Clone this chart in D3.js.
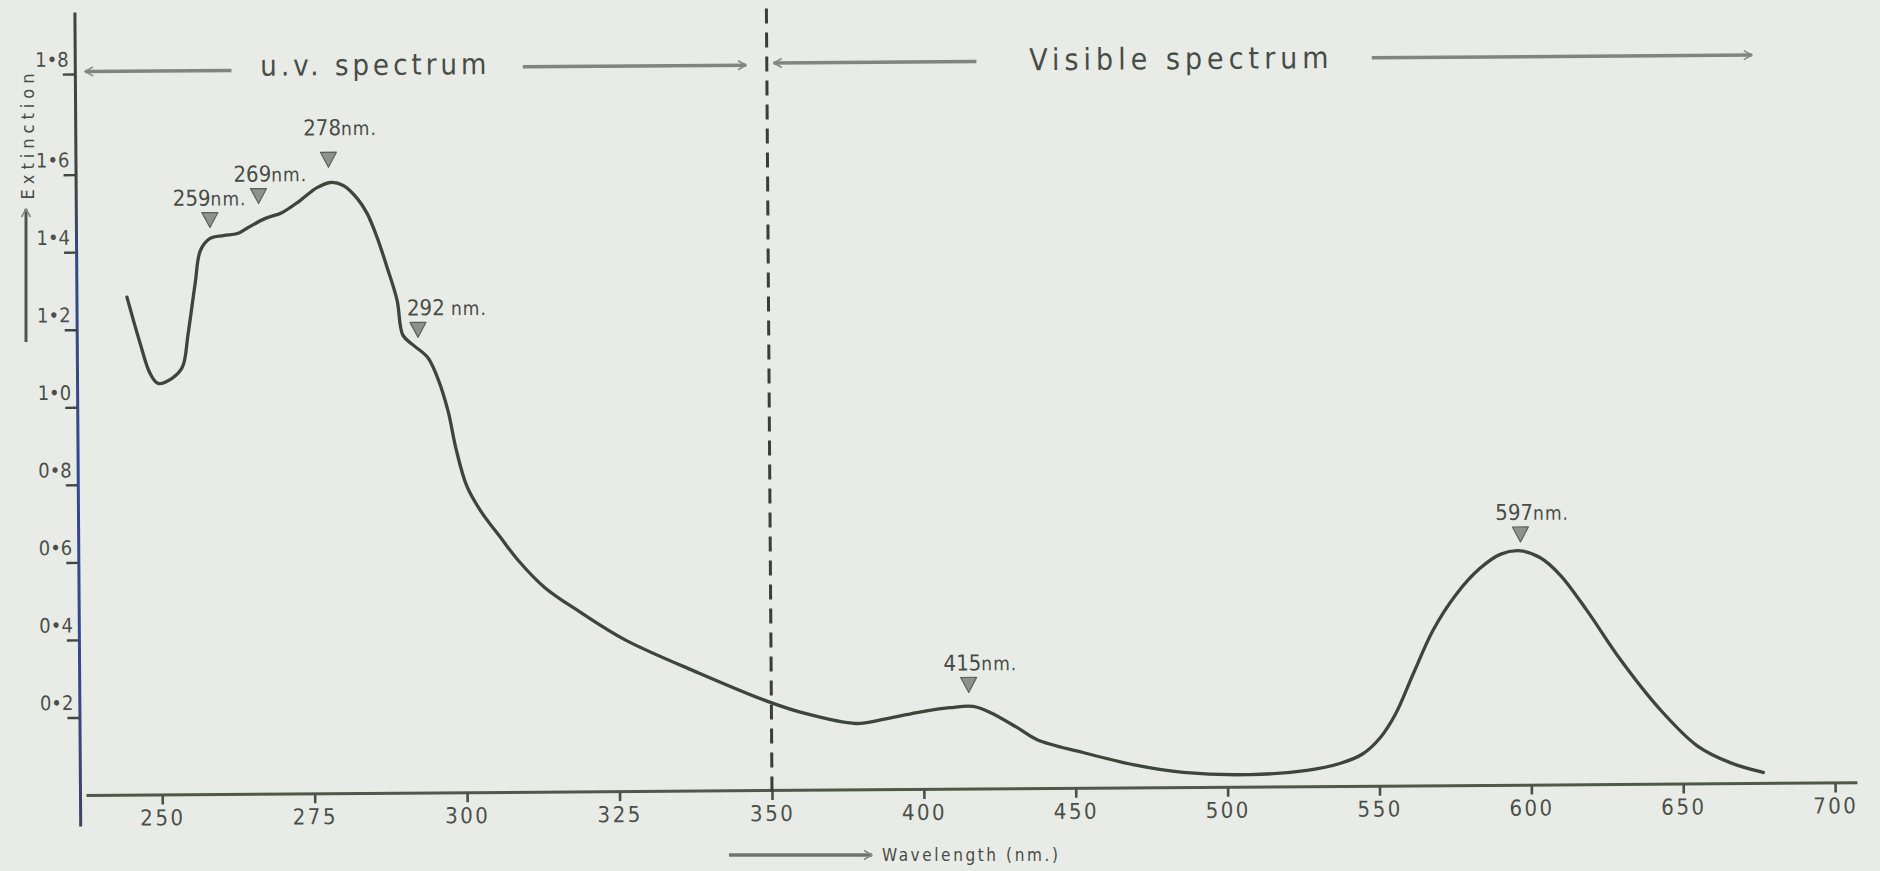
<!DOCTYPE html>
<html>
<head>
<meta charset="utf-8">
<script src="https://cdn.jsdelivr.net/npm/d3@7"></script>
<style>
body { margin: 0; background: #e9ebe7; overflow: hidden; }
svg { display: block; }
text { font-family: "Liberation Sans Narrow", "DejaVu Sans Condensed", "Liberation Sans", sans-serif; fill: #474d46; }
</style>
</head>
<body>
<script>
const width = 1880
const height = 871

// absorption curve
const wavelength = [244.8, 246.9, 248.5, 249.8, 252.1, 253.8, 254.8, 256.0, 256.9, 258.5, 260.7, 263.0, 264.5, 267.5, 270.3, 273.3, 276.1, 278.3, 280.4, 282.7, 284.3, 285.9, 287.5, 289.1, 290.0, 291.7, 294.0, 295.6, 297.3, 298.6, 300.3, 302.6, 305.7, 308.6, 313.0, 318.7, 326.1, 338.3, 349.5, 360.1, 377.8, 386.7, 397.9, 408.8, 416.4, 422.0, 430.8, 437.4, 452.5, 468.9, 485.4, 507.4, 526.2, 537.0, 544.5, 550.5, 555.5, 561.5, 568.0, 575.5, 583.5, 590.5, 597.0, 603.5, 610.0, 618.8, 629.6, 642.6, 654.7, 665.5, 676.4]
const extinction = [1.283, 1.164, 1.086, 1.060, 1.073, 1.101, 1.189, 1.317, 1.402, 1.433, 1.440, 1.445, 1.458, 1.483, 1.498, 1.529, 1.562, 1.575, 1.567, 1.533, 1.494, 1.432, 1.355, 1.270, 1.180, 1.154, 1.123, 1.071, 0.985, 0.885, 0.790, 0.724, 0.658, 0.598, 0.526, 0.463, 0.390, 0.302, 0.228, 0.199, 0.170, 0.180, 0.197, 0.209, 0.212, 0.196, 0.157, 0.125, 0.091, 0.059, 0.038, 0.031, 0.041, 0.058, 0.082, 0.125, 0.185, 0.290, 0.400, 0.490, 0.558, 0.595, 0.603, 0.585, 0.540, 0.447, 0.321, 0.191, 0.097, 0.053, 0.027]

const xTicks = [250, 275, 300, 325, 350, 400, 450, 500, 550, 600, 650, 700]
const yTicks = [0.2, 0.4, 0.6, 0.8, 1.0, 1.2, 1.4, 1.6, 1.8]
const yTickLabels = ['0•2', '0•4', '0•6', '0•8', '1•0', '1•2', '1•4', '1•6', '1•8']

// peak markers: labelled wavelength, where the triangle is drawn, height of its tip
const peakNm = [259, 269, 278, 292, 415, 597]
const peakLabels = ['259', '269', '278', '292 ', '415', '597']
const peakAt = [258.5, 266.5, 278, 292.5, 415, 597]
const peakTip = [1.461, 1.522, 1.611, 1.174, 0.248, 0.626]

const data = wavelength.map((w, i) => ({ w: w, e: extinction[i] }))
const peaks = peakNm.map((p, i) => ({ nm: p, label: peakLabels[i], at: peakAt[i], tip: peakTip[i] }))

// uv part is drawn at 25 nm per division, visible part at 50 nm per division
const x = d3.scaleLinear()
        .domain([237.5, 350, 707.2])
        .range([86, 772, 1857])

// the hand-ruled 1.8 mark sits a bit higher than the others
const y = d3.scaleLinear()
        .domain([-0.08, 1.6, 1.8, 1.923])
        .range([826, 174.6, 74, 12])

const svg = d3.select('body')
        .append('svg')
        .attr('width', width)
        .attr('height', height)

const defs = svg.append('defs')

const grad = defs.append('linearGradient')
        .attr('id', 'yaxis-col')
        .attr('gradientUnits', 'userSpaceOnUse')
        .attr('x1', 0).attr('x2', 0)
        .attr('y1', 12).attr('y2', 826)
grad.append('stop').attr('offset', 0).attr('stop-color', '#3e4440')
grad.append('stop').attr('offset', 0.2).attr('stop-color', '#3e4440')
grad.append('stop').attr('offset', 0.32).attr('stop-color', '#34488e')
grad.append('stop').attr('offset', 0.8).attr('stop-color', '#34488e')
grad.append('stop').attr('offset', 1).attr('stop-color', '#3c4560')

defs.append('marker')
        .attr('id', 'chev')
        .attr('viewBox', '0 0 12 12')
        .attr('refX', 11)
        .attr('refY', 6)
        .attr('markerWidth', 12)
        .attr('markerHeight', 12)
        .attr('markerUnits', 'userSpaceOnUse')
        .attr('orient', 'auto-start-reverse')
        .append('path')
        .attr('d', 'M3,1.5 L11,6 L3,10.5')
        .attr('fill', 'none')
        .attr('stroke', '#858a83')
        .attr('stroke-width', 1.6)

// the scan sits a little crooked on the page
const plot = svg.append('g')
        .attr('transform', 'rotate(-0.41, 80, 795)')

// x axis
const xAxis = d3.axisBottom(x)
        .tickValues(xTicks)
        .tickSize(10)
        .tickSizeOuter(0)
        .tickFormat(d3.format('d'))

const gx = plot.append('g')
        .attr('transform', 'translate(0,' + y(0) + ')')
        .call(xAxis)
gx.select('.domain').attr('stroke', '#4d5a48').attr('stroke-width', 3)
gx.selectAll('.tick line').attr('stroke', '#4a5247').attr('stroke-width', 2.6)
gx.selectAll('.tick text')
        .attr('y', 31)
        .attr('dy', 0)
        .attr('font-size', 22)
        .attr('letter-spacing', 2.5)
        .style('fill', '#4a5049')

// y axis
const yAxis = d3.axisLeft(y)
        .tickValues(yTicks)
        .tickSize(12)
        .tickSizeOuter(0)
        .tickFormat((d, i) => yTickLabels[i])

const gy = plot.append('g')
        .attr('transform', 'translate(80,0)')
        .call(yAxis)
gy.select('.domain').attr('stroke', 'url(#yaxis-col)').attr('stroke-width', 3)
gy.selectAll('.tick line').attr('stroke', '#3f4742').attr('stroke-width', 2.4)
gy.selectAll('.tick text')
        .attr('x', -6)
        .attr('y', -8)
        .attr('dy', 0)
        .attr('font-size', 20)
        .style('fill', '#4a5049')

// boundary between uv and visible
plot.append('line')
        .attr('x1', x(350)).attr('x2', x(350))
        .attr('y1', y(1.92)).attr('y2', y(-0.02))
        .attr('stroke', '#3a3d39')
        .attr('stroke-width', 3)
        .attr('stroke-dasharray', '15,9')

// spectrum captions with arrows
const arrows = [[262.2, 238.2, 71.5], [310, 346.6, 70], [419, 352.3, 68], [549.2, 674.3, 67]]
plot.selectAll('.span-arrow')
        .data(arrows)
        .join('line')
        .attr('class', 'span-arrow')
        .attr('x1', d => x(d[0]))
        .attr('x2', d => x(d[1]))
        .attr('y1', d => d[2])
        .attr('y2', d => d[2])
        .attr('stroke', '#80857e')
        .attr('stroke-width', 3.5)
        .attr('marker-end', 'url(#chev)')

plot.append('text')
        .text('u.v. spectrum')
        .attr('x', x(285.8))
        .attr('y', 77)
        .attr('text-anchor', 'middle')
        .attr('font-size', 29)
        .attr('letter-spacing', 4)

plot.append('text')
        .text('Visible spectrum')
        .attr('x', x(486.5))
        .attr('y', 77)
        .attr('text-anchor', 'middle')
        .attr('font-size', 30)
        .attr('letter-spacing', 5)

// the curve
const line = d3.line()
        .x(d => x(d.w))
        .y(d => y(d.e))
        .curve(d3.curveCatmullRom.alpha(0.5))

plot.append('path')
        .datum(data)
        .attr('d', line)
        .attr('fill', 'none')
        .attr('stroke', '#3c463a')
        .attr('stroke-width', 3.3)
        .attr('stroke-linejoin', 'round')
        .attr('stroke-linecap', 'round')

// peak markers
const nudgeX = { 259: -12, 292: 14 }
const nudgeY = { 278: -10 }
const pk = plot.selectAll('.peak')
        .data(peaks)
        .join('g')
        .attr('class', 'peak')
        .attr('transform', d => 'translate(' + x(d.at) + ',' + y(d.tip) + ')')

pk.append('path')
        .attr('d', 'M-8,-15 L8,-15 L0,0 Z')
        .attr('fill', '#8d928b')
        .attr('stroke', '#5c615a')
        .attr('stroke-width', 1.2)
        .attr('stroke-linejoin', 'round')

const lab = pk.append('text')
        .attr('x', d => -25 + (nudgeX[d.nm] || 0))
        .attr('y', d => -22 + (nudgeY[d.nm] || 0))
lab.append('tspan')
        .text(d => d.label)
        .attr('font-size', 22)
lab.append('tspan')
        .text('nm.')
        .attr('font-size', 19)
        .attr('letter-spacing', 1)

// axis titles
svg.append('line')
        .attr('x1', 26).attr('x2', 26)
        .attr('y1', 342).attr('y2', 209)
        .attr('stroke', '#4f564d')
        .attr('stroke-width', 3)
        .attr('marker-end', 'url(#chev)')

svg.append('text')
        .text('Extinction')
        .attr('transform', 'translate(34,134) rotate(-90)')
        .attr('text-anchor', 'middle')
        .attr('font-size', 18)
        .attr('letter-spacing', 5)

svg.append('line')
        .attr('x1', 729).attr('x2', 872)
        .attr('y1', 855).attr('y2', 855)
        .attr('stroke', '#6f756d')
        .attr('stroke-width', 3.5)
        .attr('marker-end', 'url(#chev)')

svg.append('text')
        .text('Wavelength (nm.)')
        .attr('x', 882)
        .attr('y', 861)
        .attr('font-size', 17)
        .attr('letter-spacing', 2.6)
</script>
</body>
</html>
